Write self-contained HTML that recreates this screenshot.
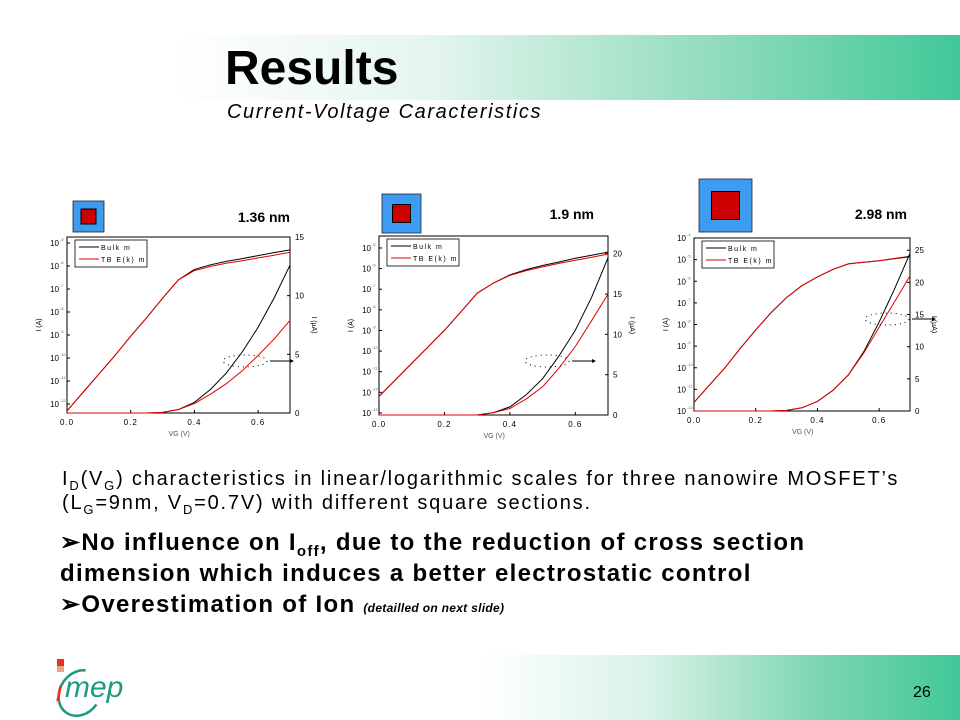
<!DOCTYPE html>
<html><head><meta charset="utf-8">
<style>
body{margin:0;width:960px;height:720px;overflow:hidden;background:#fff;position:relative;font-family:"Liberation Sans",sans-serif}
.abs{position:absolute}
#hdr{left:0;top:35px;width:960px;height:65px;background:linear-gradient(90deg,#fff 0%,#fff 18%,#e4f5ee 45%,#8fdcbc 75%,#40c898 100%)}
#ftr{left:0;top:655px;width:960px;height:65px;background:linear-gradient(90deg,#fff 0%,#fff 50%,#d8f2e7 68%,#7dd6b2 85%,#40c898 100%)}
svg text{font-family:"Liberation Sans",sans-serif}
sub{line-height:0}
</style></head><body>
<div class="abs" id="hdr"></div>
<div class="abs" id="ftr"></div>
<div class="abs" style="left:225px;top:41px;font-size:48px;font-weight:bold;color:#000">Results</div>
<div class="abs" style="left:227px;top:101px;font-size:20px;letter-spacing:1.6px;font-style:italic">Current-Voltage Caracteristics</div>
<div class="abs" style="left:62px;top:467px;font-size:20px;letter-spacing:1.8px;line-height:24px;white-space:nowrap">I<sub style="font-size:13px">D</sub>(V<sub style="font-size:13px">G</sub>) characteristics in linear/logarithmic scales for three nanowire MOSFET’s<br>(L<sub style="font-size:13px">G</sub>=9nm, V<sub style="font-size:13px">D</sub>=0.7V) with different square sections.</div>
<div class="abs" style="left:60px;top:527px;font-size:24px;letter-spacing:1.3px;font-weight:bold;line-height:31px;white-space:nowrap">
<div>➢No influence on I<sub style="font-size:15px">off</sub>, due to the reduction of cross section<br>dimension which induces a better electrostatic control</div>
<div>➢Overestimation of Ion <span style="font-size:12px;letter-spacing:0.3px;font-style:italic">(detailled on next slide)</span></div>
</div>
<div class="abs" style="left:913px;top:684px;font-size:16px">26</div>
<svg class="abs" style="left:30px;top:655px" width="130" height="65">
<ellipse cx="50" cy="38" rx="20" ry="24" fill="none" stroke="#1e9a80" stroke-width="2.5" transform="rotate(35 50 38)" stroke-dasharray="95 60"/>
<rect x="27" y="4" width="7" height="7" fill="#e8331c"/><rect x="27" y="11" width="7" height="6" fill="#f0a090"/>
<text x="25" y="46" font-size="30" font-family="Liberation Serif" font-style="italic" fill="#e8331c">ı</text>
<text x="35" y="42" font-size="30" font-family="Liberation Serif" font-style="italic" fill="#1e9a80">mep</text>
</svg>
<svg id="s" class="abs" style="left:0;top:0" width="960" height="720"></svg>
<script>
const vg=[0,0.05,0.1,0.15,0.2,0.25,0.3,0.35,0.4,0.45,0.5,0.55,0.6,0.65,0.7];
const xTicks=[0,0.2,0.4,0.6];
// chart 1 (1.36 nm)
const c1LogBulk=[-12.3,-11.5,-10.7,-9.9,-9.05,-8.25,-7.4,-6.6,-6.15,-5.95,-5.8,-5.68,-5.55,-5.42,-5.3];
const c1LogTb=[-12.3,-11.5,-10.7,-9.9,-9.05,-8.25,-7.4,-6.6,-6.2,-6.02,-5.88,-5.77,-5.65,-5.53,-5.4];
const c1LinBulk=[0,0,0,0,0,0,0.05,0.3,0.9,2,3.4,5.2,7.3,9.8,12.6];
const c1LinTb=[0,0,0,0,0,0,0.05,0.3,0.8,1.6,2.5,3.6,4.9,6.3,7.9];
const c1LogTicks=[-5,-6,-7,-8,-9,-10,-11,-12];
const c1LinTicks=[0,5,10,15];
// chart 2 (1.9 nm)
const c2LogBulk=[-12.2,-11.4,-10.6,-9.8,-9.0,-8.1,-7.2,-6.7,-6.3,-6.05,-5.85,-5.68,-5.5,-5.35,-5.2];
const c2LogTb=[-12.2,-11.4,-10.6,-9.8,-9.0,-8.1,-7.2,-6.7,-6.33,-6.1,-5.92,-5.75,-5.6,-5.45,-5.3];
const c2LinBulk=[0,0,0,0,0,0,0,0.3,1.0,2.5,4.5,7.3,10.5,14.6,19.5];
const c2LinTb=[0,0,0,0,0,0,0,0.3,0.8,2,3.5,5.8,8.5,11.7,15];
const c2LogTicks=[-5,-6,-7,-8,-9,-10,-11,-12,-13];
const c2LinTicks=[0,5,10,15,20];
// chart 3 (2.98 nm)
const c3LogBulk=[-11.6,-10.8,-10.0,-9.1,-8.25,-7.45,-6.75,-6.2,-5.8,-5.45,-5.2,-5.12,-5.05,-4.95,-4.85];
const c3LogTb=[-11.6,-10.8,-10.0,-9.1,-8.25,-7.45,-6.75,-6.2,-5.8,-5.45,-5.2,-5.12,-5.05,-4.96,-4.88];
const c3LinBulk=[0,0,0,0,0,0,0.1,0.5,1.5,3.2,5.6,9.2,13.8,19,24.5];
const c3LinTb=[0,0,0,0,0,0,0.1,0.5,1.5,3.2,5.6,9,13,17,21];
const c3LogTicks=[-4,-5,-6,-7,-8,-9,-10,-11,-12];
const c3LinTicks=[0,5,10,15,20,25];

const NS='http://www.w3.org/2000/svg';
const svg=document.getElementById('s');
function el(t,a,p){const e=document.createElementNS(NS,t);for(const k in a)e.setAttribute(k,a[k]);(p||svg).appendChild(e);return e;}
function chart(cfg){
  const g=el('g',{});
  
  
  const {L,R,T,B,logTop,logBot,linTop}=cfg;
  const X=v=>L+(v/0.7)*(R-L);
  const YL=v=>T+(logTop-v)/(logTop-logBot)*(B-T);
  const YR=v=>B-(v/linTop)*(B-T);
  const o=el('rect',{x:cfg.sq[0],y:cfg.sq[1],width:cfg.sq[2],height:cfg.sq[2],fill:'#3d9bf0',stroke:'#223',"stroke-width":0.8},g);
  
  
  const ii=cfg.sq[3],off=(cfg.sq[2]-ii)/2;
  el('rect',{x:cfg.sq[0]+off,y:cfg.sq[1]+off,width:ii,height:ii,fill:'#cc0000',stroke:'#000',"stroke-width":1},g);
  const lab=el('text',{x:cfg.lab[0],y:cfg.lab[1],"font-size":14,"font-weight":"bold","text-anchor":"end"},g);
  lab.textContent=cfg.label;
  
  
  const fr=el('rect',{x:L,y:T,width:R-L,height:B-T,fill:'#fff',stroke:'#000',"stroke-width":1},g);
  
  
  xTicks.forEach(v=>{el('line',{x1:X(v),x2:X(v),y1:B,y2:B-3,stroke:'#000'},g);
    const t=el('text',{x:X(v),y:B+12,"font-size":8,"text-anchor":"middle","letter-spacing":1},g);t.textContent=v.toFixed(1);});
  cfg.logT.forEach(v=>{el('line',{x1:L,x2:L+3,y1:YL(v),y2:YL(v),stroke:'#000'},g);
    const t=el('text',{x:L-8,y:YL(v)+3,"font-size":8,"text-anchor":"end"},g);t.textContent='10';
    const s=el('text',{x:L-7,y:YL(v)-2,"font-size":4,fill:'#666'},g);s.textContent=String(v);});
  cfg.linT.forEach(v=>{el('line',{x1:R,x2:R-3,y1:YR(v),y2:YR(v),stroke:'#000'},g);
    const t=el('text',{x:R+5,y:YR(v)+3,"font-size":8},g);t.textContent=v;});
  const yl=el('text',{x:L-26,y:(T+B)/2,"font-size":7,transform:`rotate(-90 ${L-26} ${(T+B)/2})`,"text-anchor":"middle"},g);yl.textContent='I (A)';
  
  
  const yr=el('text',{x:R+22,y:(T+B)/2,"font-size":7,transform:`rotate(90 ${R+22} ${(T+B)/2})`,"text-anchor":"middle"},g);yr.textContent='I (µA)';
  
  
  const xl=el('text',{x:(L+R)/2-10,y:B+23,"font-size":7,fill:'#555'},g);xl.textContent='VG (V)';
  
  
  const series=[[cfg.logBulk,YL,'#000','log-bulk-line'],[cfg.logTb,YL,'#e00000','log-tb-line'],[cfg.linBulk,YR,'#000','lin-bulk-line'],[cfg.linTb,YR,'#e00000','lin-tb-line']];
  series.forEach(([d,Y,c,n])=>{
    const p=el('polyline',{points:d.map((v,i)=>X(vg[i]).toFixed(1)+','+Y(v).toFixed(1)).join(' '),fill:'none',stroke:c,"stroke-width":1},g);
    
    });
  el('ellipse',{cx:cfg.ell[0],cy:cfg.ell[1],rx:22,ry:6,fill:'none',stroke:'#000',"stroke-dasharray":'1 4'},g);
  el('line',{x1:cfg.ell[0]+25,x2:cfg.ell[0]+45,y1:cfg.ell[1],y2:cfg.ell[1],stroke:'#000'},g);
  el('path',{d:`M${cfg.ell[0]+45},${cfg.ell[1]-2}l4,2l-4,2z`},g);
  const lg=el('g',{},g);
  
  
  el('rect',{x:L+8,y:T+3,width:72,height:27,fill:'#fff',stroke:'#000',"stroke-width":0.8},lg);
  [['Bulk m','#000'],['TB E(k) m','#e00000']].forEach(([t,c],i)=>{
    el('line',{x1:L+12,x2:L+32,y1:T+10+i*12,y2:T+10+i*12,stroke:c},lg);
    const tx=el('text',{x:L+34,y:T+13+i*12,"font-size":7,"letter-spacing":1.5},lg);tx.textContent=t;});
}
chart({name:'chart-1-36nm',L:67,R:290,T:237,B:413,logTop:-4.74,logBot:-12.39,linTop:15,logT:c1LogTicks,linT:c1LinTicks,
  logBulk:c1LogBulk,logTb:c1LogTb,linBulk:c1LinBulk,linTb:c1LinTb,sq:[73,201,31,15],label:'1.36 nm',lab:[290,222],ell:[245,361]});
chart({name:'chart-1-9nm',L:379,R:608,T:236,B:415,logTop:-4.42,logBot:-13.1,linTop:22.2,logT:c2LogTicks,linT:c2LinTicks,
  logBulk:c2LogBulk,logTb:c2LogTb,linBulk:c2LinBulk,linTb:c2LinTb,sq:[382,194,39,18],label:'1.9 nm',lab:[594,219],ell:[547,361]});
chart({name:'chart-2-98nm',L:694,R:910,T:238,B:411,logTop:-4,logBot:-12,linTop:26.9,logT:c3LogTicks,linT:c3LinTicks,
  logBulk:c3LogBulk,logTb:c3LogTb,linBulk:c3LinBulk,linTb:c3LinTb,sq:[699,179,53,28],label:'2.98 nm',lab:[907,219],ell:[887,319]});
</script>
</body></html>
